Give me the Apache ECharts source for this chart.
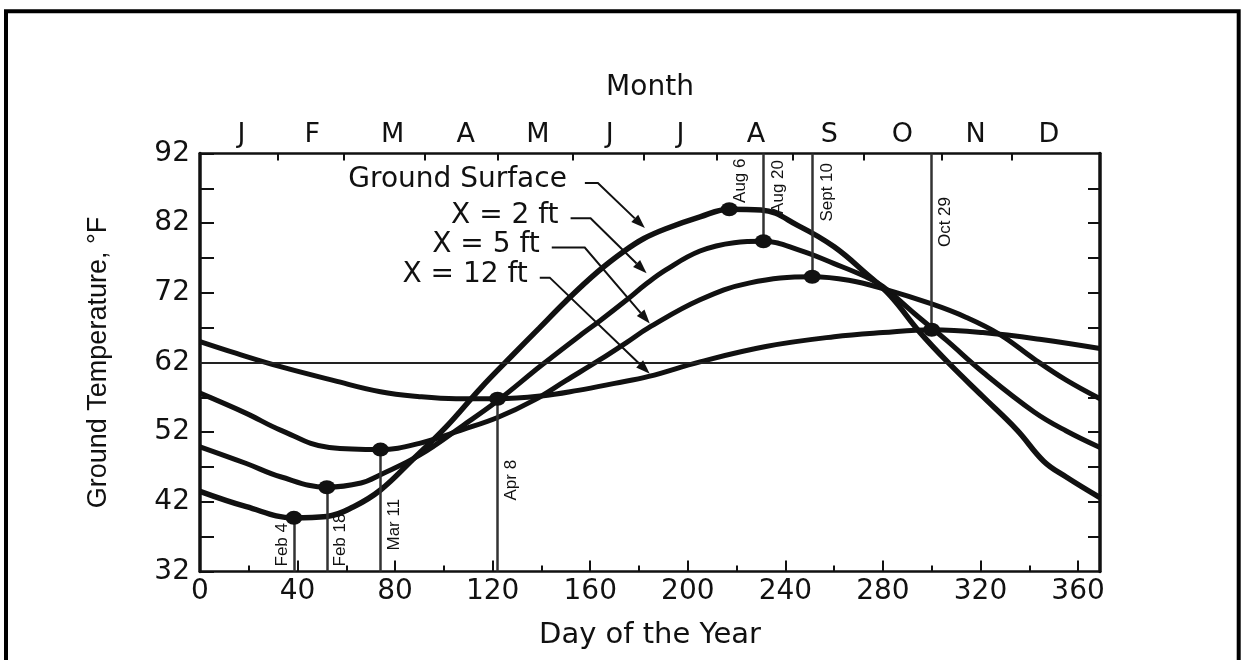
<!DOCTYPE html>
<html>
<head>
<meta charset="utf-8">
<title>Ground Temperature vs Day of the Year</title>
<script src="https://cdn.jsdelivr.net/npm/echarts@6/dist/echarts.min.js"></script>
<style>
  html, body { margin: 0; padding: 0; background: #fff; }
  #main { width: 1245px; height: 660px; }
</style>
</head>
<body>
<div id="main"></div>
<script>
// curves: [day of year, temperature °F]
const surface = [[0, 43.5], [19, 41.3], [38.5, 39.7], [52, 39.9], [63, 41.3], [74, 43.7], [87, 48.0], [101, 52.8],
  [115, 58.3], [128, 63.0], [139, 66.9], [150, 70.8], [163, 75.0], [174, 78.0], [182, 79.8], [191, 81.2],
  [205, 82.9], [217, 84.0], [230, 83.9], [246, 81.5], [260, 78.6], [273, 74.8], [283, 71.6], [295, 66.4],
  [307, 61.9], [321, 57.1], [335, 52.3], [346, 47.8], [355, 45.6], [369, 42.6]];
const depth2 = [[0, 49.9], [19, 47.5], [33, 45.6], [52, 44.1], [66, 44.7], [74, 45.9], [90, 48.7], [108, 53.0],
  [122, 56.5], [140, 61.6], [157, 66.2], [164, 68.0], [175, 71.0], [183, 73.3], [191, 75.3], [205, 78.0],
  [219, 79.2], [231, 79.4], [246, 78.1], [260, 76.2], [273, 74.3], [280, 72.9], [293, 69.0], [306, 65.2],
  [321, 60.6], [342, 54.9], [355, 52.2], [369, 49.8]];
const depth5 = [[0, 57.6], [19, 54.7], [33, 52.3], [53, 49.8], [74, 49.5], [90, 50.4], [108, 52.4], [122, 54.1],
  [137, 56.6], [150, 59.4], [164, 62.4], [175, 64.9], [184, 67.0], [205, 71.0], [225, 73.4], [251, 74.3],
  [266, 73.8], [280, 72.6], [300, 70.4], [314, 68.5], [328, 66.0], [342, 62.5], [355, 59.5], [369, 56.8]];
const depth12 = [[0, 65.0], [15, 63.3], [33, 61.4], [55, 59.4], [74, 57.8], [90, 57.1], [105, 56.8], [122, 56.8],
  [140, 57.2], [155, 58.0], [170, 59.0], [184, 60.0], [205, 62.1], [232, 64.3], [260, 65.7], [280, 66.3],
  [300, 66.7], [321, 66.3], [345, 65.3], [369, 64.0]];

// minimum / maximum markers
const markerNames = ['Feb 4', 'Feb 18', 'Mar 11', 'Apr 8', 'Aug 6', 'Aug 20', 'Sept 10', 'Oct 29'];
const markerDays = [38.5, 52, 74, 122, 217, 231, 251, 300];
const markerTemps = [39.7, 44.1, 49.5, 56.8, 84.0, 79.4, 74.3, 66.7];
const markerIsMax = [false, false, false, false, true, true, true, true];
const markerHasLine = [true, true, true, true, false, true, true, true];

const meanTemp = 62;

// axes
const monthLetters = ['J', 'F', 'M', 'A', 'M', 'J', 'J', 'A', 'S', 'O', 'N', 'D'];
const monthMids = [17, 46, 79, 109, 138.5, 168, 197, 228, 258, 288, 318, 348];
const monthStarts = [32, 59, 92, 122, 153, 182, 212, 243, 272, 304, 333];
const tempLabels = [32, 42, 52, 62, 72, 82, 92];
const tempTicks = [32, 37, 42, 47, 52, 57, 62, 67, 72, 77, 82, 87, 92];

// leader callouts
const leaderNames = ['Ground Surface', 'X = 2 ft', 'X = 5 ft', 'X = 12 ft'];
const leaderTipDays = [182.4, 183.1, 184.4, 184.4];
const leaderTipTemps = [81.3, 74.8, 67.6, 60.4];

// label placement (styling only)
const markerLabelPos = ['insideStartTop', 'insideStartBottom', 'insideStartBottom', 'insideStartBottom',
  'insideEndBottom', 'insideEndBottom', 'insideEndBottom', 'insideEndBottom'];
const markerLabelDist = [[5, 3], [5, 5], [21, 5], [71, 5], [5, 3], [6.5, 6.5], [9.5, 7], [43.5, 5.5]];
const leaderElbow = [[-47, -45], [-56, -55], [-65, -76], [-100, -96]];
const leaderDash = [13, 20, 33, 10];
const leaderGap = [18, 12, 12, 12];

const ink = '#111';
const font = 'DejaVu Sans';

function curve(name, data, width) {
  return {
    name: name,
    type: 'line',
    data: data,
    smooth: 0.4,
    showSymbol: false,
    symbol: 'none',
    silent: true,
    lineStyle: { color: ink, width: width },
    z: 3
  };
}

const markLines = markerNames.map(function (label, i) {
  const d = markerDays[i];
  const t = markerTemps[i];
  const from = markerIsMax[i] ? [d, t] : [d, 32];
  const to = markerIsMax[i] ? [d, 92] : [d, t];
  return [{
    coord: from,
    lineStyle: {
      color: markerHasLine[i] ? '#333' : 'rgba(0,0,0,0)',
      width: 2.5,
      type: 'solid'
    },
    label: {
      show: true,
      formatter: label,
      position: markerLabelPos[i],
      distance: markerLabelDist[i],
      fontFamily: 'Liberation Sans',
      fontSize: 17,
      color: ink
    }
  }, { coord: to }];
});

const seriesList = [
  curve('Ground Surface', surface, 5.5),
  curve('X = 2 ft', depth2, 5),
  curve('X = 5 ft', depth5, 5),
  curve('X = 12 ft', depth12, 5),
  {
    name: 'extremes',
    type: 'scatter',
    data: markerDays.map(function (d, i) { return [d, markerTemps[i]]; }),
    symbolSize: [17, 14],
    itemStyle: { color: ink, opacity: 1 },
    silent: true,
    z: 5,
    markLine: {
      silent: true,
      symbol: 'none',
      animation: false,
      lineStyle: { type: 'solid' },
      data: markLines
    }
  }
];

seriesList[0].markLine = {
  silent: true,
  symbol: 'none',
  label: { show: false },
  lineStyle: { color: '#222', width: 1.8, type: 'solid' },
  data: [{ yAxis: meanTemp }]
};

const option = {
  animation: false,
  backgroundColor: '#fff',
  textStyle: { fontFamily: font, color: ink },
  grid: { left: 200, right: 145, top: 153.5, bottom: 88.5, outerBoundsMode: 'none' },
  xAxis: [
    {
      type: 'value',
      position: 'bottom',
      min: 0,
      max: 369,
      interval: 40,
      name: 'Day of the Year',
      nameLocation: 'middle',
      nameGap: 49,
      nameTextStyle: { fontFamily: font, fontSize: 29, color: ink },
      axisLine: { show: true, onZero: false, lineStyle: { color: ink, width: 2.5 } },
      axisTick: { show: true, inside: true, length: 11, lineStyle: { color: ink, width: 2 } },
      minorTick: { show: true, splitNumber: 2, length: 6, lineStyle: { color: ink, width: 2 } },
      axisLabel: { fontFamily: font, fontSize: 28, color: ink, margin: 6, showMaxLabel: false },
      splitLine: { show: false }
    },
    {
      type: 'value',
      position: 'top',
      min: 0,
      max: 369,
      name: 'Month',
      nameLocation: 'middle',
      nameGap: 52,
      nameTextStyle: { fontFamily: font, fontSize: 28, color: ink },
      axisLine: { show: true, onZero: false, lineStyle: { color: ink, width: 2.5 } },
      axisTick: { show: true, inside: true, length: 7, customValues: monthStarts, lineStyle: { color: ink, width: 2 } },
      axisLabel: {
        fontFamily: font, fontSize: 27, color: ink, margin: 5,
        customValues: monthMids,
        formatter: function (v) { return monthLetters[monthMids.indexOf(v)]; }
      },
      splitLine: { show: false }
    }
  ],
  yAxis: [
    {
      type: 'value',
      position: 'left',
      min: 32,
      max: 92,
      name: 'Ground Temperature, °F',
      nameLocation: 'middle',
      nameRotate: 90,
      nameGap: 88,
      nameTextStyle: { fontFamily: 'Liberation Sans', fontSize: 27, color: ink },
      axisLine: { show: true, onZero: false, lineStyle: { color: ink, width: 3.5 } },
      axisTick: { show: true, inside: true, length: 14, customValues: tempTicks, lineStyle: { color: ink, width: 2 } },
      axisLabel: { fontFamily: font, fontSize: 28, color: ink, margin: 10, customValues: tempLabels },
      splitLine: { show: false }
    },
    {
      type: 'value',
      position: 'right',
      min: 32,
      max: 92,
      axisLine: { show: true, onZero: false, lineStyle: { color: ink, width: 3.5 } },
      axisTick: { show: true, inside: true, length: 12, customValues: tempTicks.slice(1, -1), lineStyle: { color: ink, width: 2 } },
      axisLabel: { show: false },
      splitLine: { show: false }
    }
  ],
  series: seriesList
};

const chart = echarts.init(document.getElementById('main'));
chart.setOption(option);

// frame and callout leaders, anchored to the data coordinates of the arrow tips
const graphics = [{
  type: 'rect',
  silent: true,
  z: 100,
  shape: { x: 6, y: 11.3, width: 1232.7, height: 700 },
  style: { fill: 'none', stroke: '#000', lineWidth: 4 }
}];

leaderNames.forEach(function (name, i) {
  const tip = chart.convertToPixel({ gridIndex: 0 }, [leaderTipDays[i], leaderTipTemps[i]]);
  const elbow = [tip[0] + leaderElbow[i][0], tip[1] + leaderElbow[i][1]];
  const start = [elbow[0] - leaderDash[i], elbow[1]];
  const len = Math.hypot(tip[0] - elbow[0], tip[1] - elbow[1]);
  const ux = (tip[0] - elbow[0]) / len;
  const uy = (tip[1] - elbow[1]) / len;
  const L = 14, W = 5;
  const base = [tip[0] - ux * L, tip[1] - uy * L];
  graphics.push({
    type: 'polyline',
    silent: true,
    z: 50,
    shape: { points: [start, elbow, base] },
    style: { stroke: ink, lineWidth: 2, fill: 'none' }
  });
  graphics.push({
    type: 'polygon',
    silent: true,
    z: 50,
    shape: { points: [tip, [base[0] - uy * W, base[1] + ux * W], [base[0] + uy * W, base[1] - ux * W]] },
    style: { fill: ink }
  });
  graphics.push({
    type: 'text',
    silent: true,
    z: 50,
    x: start[0] - leaderGap[i],
    y: start[1] - 3,
    style: {
      text: name,
      fontFamily: font,
      fontSize: 28,
      fill: ink,
      align: 'right',
      verticalAlign: 'middle'
    }
  });
});

chart.setOption({ graphic: graphics });
</script>
</body>
</html>
